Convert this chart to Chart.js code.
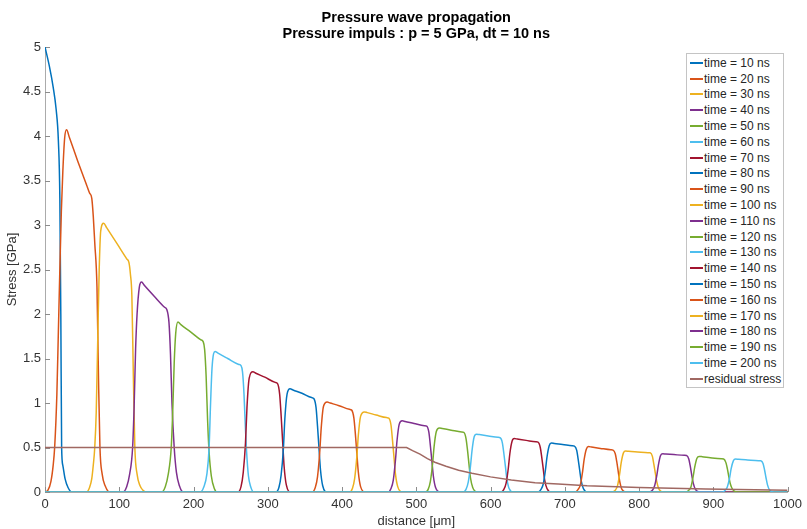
<!DOCTYPE html>
<html>
<head>
<meta charset="utf-8">
<script src="https://cdn.jsdelivr.net/npm/chart.js@4.4.1/dist/chart.umd.min.js"></script>
<style>
  html, body { margin: 0; padding: 0; background: #fff; overflow: hidden; }
  #wrap { position: relative; width: 807px; height: 536px; }
  #legend {
    position: absolute; left: 686px; top: 53px; width: 96px; height: 332px;
    border: 1px solid #c4c4c4; background: #fff; padding-top: 1px; box-sizing: content-box;
    font: 12px "Liberation Sans", Arial, Helvetica, sans-serif; color: #262626;
  }
  #legend .row { display: flex; align-items: center; height: 15.8px; white-space: nowrap; }
  #legend .swatch { width: 13px; height: 2px; margin: 0 1px 0 3px; }
</style>
</head>
<body>
<div id="wrap">
  <canvas id="chart" width="807" height="536"></canvas>
  <div id="legend"></div>
</div>
<script>
(function () {
  'use strict';

  // pulse times in ns
  var times = [10, 20, 30, 40, 50, 60, 70, 80, 90, 100, 110, 120, 130, 140, 150, 160, 170, 180, 190, 200];

  // distance [um] / stress [GPa] for each pulse
  var dist10 = [0, 6, 11, 15, 18, 20, 21.3, 22.4, 24, 27, 31, 36, 1000];
  var stress10 = [5, 4.78, 4.55, 4.3, 3.95, 3.3, 2.0, 0.5, 0.3, 0.15, 0.05, 0, 0];

  var dist20 = [0, 4, 8, 11, 13, 16, 18, 20, 22, 24, 26.5, 29, 33, 44, 56, 60, 63, 65, 67, 70, 72, 74, 77, 81, 87, 1000];
  var stress20 = [0, 0.02, 0.12, 0.3, 0.5, 1.1, 1.8, 2.5, 3.15, 3.6, 3.98, 4.07, 3.98, 3.72, 3.45, 3.36, 3.3, 3.1, 2.8, 2.3, 1.3, 0.5, 0.2, 0.07, 0, 0];

  var dist30 = [0, 56, 60, 63, 65, 67, 69, 71, 73, 75, 79, 83, 97, 110, 113, 115, 117, 119, 121, 124, 128, 132, 137, 1000];
  var stress30 = [0, 0, 0.05, 0.15, 0.3, 0.5, 0.9, 1.7, 2.5, 2.93, 3.02, 2.97, 2.79, 2.62, 2.58, 2.45, 2.2, 1.3, 0.5, 0.2, 0.07, 0.02, 0, 0];

  var dist40 = [0, 105, 110, 114, 118, 120, 122, 124, 127, 130, 134, 147, 161, 164, 167, 169, 171, 174, 177, 181, 186, 1000];
  var stress40 = [0, 0, 0.06, 0.2, 0.5, 0.95, 1.6, 2.0, 2.3, 2.36, 2.32, 2.2, 2.076, 2.05, 1.9, 1.55, 1.0, 0.5, 0.22, 0.07, 0, 0];

  var dist50 = [0, 157, 162, 166, 170, 172, 174, 176, 179, 183, 196, 210, 213, 215, 217, 219, 221, 224, 228, 232, 1000];
  var stress50 = [0, 0, 0.06, 0.2, 0.5, 0.9, 1.45, 1.78, 1.91, 1.88, 1.8, 1.71, 1.69, 1.6, 1.3, 0.8, 0.45, 0.18, 0.04, 0, 0];

  var dist60 = [0, 209, 214, 218, 221, 223, 225, 229, 233, 246, 261, 264, 266, 268, 270, 271.5, 274, 277, 281, 1000];
  var stress60 = [0, 0, 0.06, 0.2, 0.5, 1.0, 1.4, 1.58, 1.56, 1.5, 1.433, 1.42, 1.35, 1.1, 0.7, 0.45, 0.18, 0.06, 0, 0];

  var dist70 = [0, 260, 264, 267, 270, 272, 275, 280, 284, 296, 310, 313, 316, 318, 320, 322, 325, 331, 1000];
  var stress70 = [0, 0, 0.06, 0.22, 0.55, 0.95, 1.28, 1.35, 1.334, 1.29, 1.232, 1.22, 1.1, 0.86, 0.57, 0.29, 0.08, 0, 0];

  var dist80 = [0, 311, 315, 318, 321, 323, 326, 330, 334, 346, 359, 362, 365, 367, 369, 371, 374, 380, 1000];
  var stress80 = [0, 0, 0.05, 0.19, 0.48, 0.82, 1.1, 1.16, 1.146, 1.11, 1.061, 1.05, 0.95, 0.74, 0.49, 0.25, 0.07, 0, 0];

  var dist90 = [0, 360, 364, 367, 370, 372, 375, 380, 384, 396, 410, 413, 416, 418, 420, 422, 425, 431, 1000];
  var stress90 = [0, 0, 0.05, 0.17, 0.45, 0.72, 0.96, 1.01, 1.0, 0.97, 0.929, 0.92, 0.83, 0.65, 0.43, 0.22, 0.06, 0, 0];

  var dist100 = [0, 410, 414, 417, 420, 422, 425, 430, 434, 446, 460, 463, 466, 468, 470, 472, 475, 481, 1000];
  var stress100 = [0, 0, 0.04, 0.15, 0.4, 0.64, 0.85, 0.9, 0.892, 0.865, 0.836, 0.83, 0.75, 0.58, 0.39, 0.2, 0.06, 0, 0];

  var dist110 = [0, 462, 466, 469, 472, 474, 477, 481, 485, 497, 511, 514, 517, 519, 521, 523, 526, 532, 1000];
  var stress110 = [0, 0, 0.04, 0.13, 0.36, 0.57, 0.76, 0.8, 0.793, 0.77, 0.745, 0.74, 0.67, 0.52, 0.35, 0.18, 0.05, 0, 0];

  var dist120 = [0, 512, 516, 519, 522, 524, 527, 531, 535, 547, 561, 564, 567, 569, 571, 573, 576, 582, 1000];
  var stress120 = [0, 0, 0.03, 0.12, 0.32, 0.51, 0.68, 0.72, 0.714, 0.695, 0.674, 0.67, 0.6, 0.47, 0.31, 0.16, 0.05, 0, 0];

  var dist130 = [0, 563, 567, 570, 573, 575, 578, 581, 585, 597, 610, 613, 616, 618, 620, 622, 625, 631, 1000];
  var stress130 = [0, 0, 0.03, 0.11, 0.29, 0.46, 0.62, 0.65, 0.645, 0.63, 0.614, 0.61, 0.55, 0.43, 0.29, 0.15, 0.04, 0, 0];

  var dist140 = [0, 614, 618, 621, 624, 626, 629, 632, 636, 648, 661, 664, 667, 669, 671, 673, 676, 682, 1000];
  var stress140 = [0, 0, 0.03, 0.1, 0.27, 0.43, 0.57, 0.6, 0.595, 0.58, 0.564, 0.56, 0.5, 0.39, 0.26, 0.13, 0.04, 0, 0];

  var dist150 = [0, 664, 668, 671, 674, 676, 679, 682, 686, 697, 710, 713, 716, 718, 720, 722, 725, 731, 1000];
  var stress150 = [0, 0, 0.03, 0.09, 0.25, 0.39, 0.52, 0.55, 0.545, 0.535, 0.519, 0.515, 0.47, 0.37, 0.25, 0.13, 0.04, 0, 0];

  var dist160 = [0, 714, 718, 721, 724, 726, 729, 732, 736, 748, 762, 765, 768, 770, 772, 774, 777, 783, 1000];
  var stress160 = [0, 0, 0.03, 0.08, 0.23, 0.36, 0.48, 0.51, 0.505, 0.49, 0.474, 0.47, 0.43, 0.34, 0.23, 0.12, 0.03, 0, 0];

  var dist170 = [0, 764, 768, 771, 774, 776, 779, 782, 786, 798, 812, 815, 818, 820, 822, 824, 827, 833, 1000];
  var stress170 = [0, 0, 0.02, 0.07, 0.21, 0.33, 0.44, 0.46, 0.457, 0.45, 0.442, 0.44, 0.4, 0.31, 0.21, 0.11, 0.03, 0, 0];

  var dist180 = [0, 814, 818, 821, 824, 826, 829, 832, 836, 847, 861, 864, 867, 869, 871, 873, 876, 882, 1000];
  var stress180 = [0, 0, 0.02, 0.07, 0.19, 0.3, 0.41, 0.43, 0.427, 0.42, 0.412, 0.41, 0.37, 0.29, 0.19, 0.1, 0.03, 0, 0];

  var dist190 = [0, 863, 867, 870, 873, 875, 878, 881, 885, 896, 911, 914, 917, 919, 921, 923, 926, 932, 1000];
  var stress190 = [0, 0, 0.02, 0.06, 0.18, 0.28, 0.38, 0.4, 0.397, 0.385, 0.373, 0.37, 0.33, 0.26, 0.17, 0.09, 0.03, 0, 0];

  var dist200 = [0, 912, 916, 919, 922, 924, 927, 930, 934, 946, 961, 964, 967, 969, 971, 973, 976, 982, 1000];
  var stress200 = [0, 0, 0.02, 0.06, 0.16, 0.26, 0.35, 0.37, 0.367, 0.36, 0.352, 0.35, 0.32, 0.25, 0.16, 0.08, 0.02, 0, 0];

  var residualDist = [0, 487, 495, 505, 515, 525, 540, 557, 575, 600, 628, 660, 691, 730, 800, 890, 1000];
  var residualStress = [0.5, 0.5, 0.465, 0.425, 0.375, 0.335, 0.29, 0.245, 0.21, 0.17, 0.135, 0.105, 0.09, 0.07, 0.05, 0.035, 0.02];

  var xTicks = [0, 100, 200, 300, 400, 500, 600, 700, 800, 900, 1000];

  var pulseDist = [dist10, dist20, dist30, dist40, dist50, dist60, dist70, dist80, dist90, dist100,
    dist110, dist120, dist130, dist140, dist150, dist160, dist170, dist180, dist190, dist200];
  var pulseStress = [stress10, stress20, stress30, stress40, stress50, stress60, stress70, stress80, stress90, stress100,
    stress110, stress120, stress130, stress140, stress150, stress160, stress170, stress180, stress190, stress200];

  // matlab default line order
  var colors = ['#0072BD', '#D95319', '#EDB120', '#7E2F8E', '#77AC30', '#4DBEEE', '#A2142F'];
  var residualColor = '#a06862';
  var fontFamily = '"Liberation Sans", Arial, Helvetica, sans-serif';

  function points(xs, ys) {
    return xs.map(function (x, i) { return { x: x, y: ys[i] }; });
  }

  var datasets = times.map(function (t, i) {
    return {
      label: 'time = ' + t + ' ns',
      data: points(pulseDist[i], pulseStress[i]),
      borderColor: colors[i % colors.length],
      borderWidth: 1.5,
      pointRadius: 0,
      cubicInterpolationMode: 'monotone',
      order: -i
    };
  });
  datasets.push({
    label: 'residual stress',
    data: points(residualDist, residualStress),
    borderColor: residualColor,
    borderWidth: 1.5,
    pointRadius: 0,
    tension: 0,
    order: -times.length
  });

  // matlab style ticks pointing into the plot
  var innerTicks = {
    id: 'innerTicks',
    beforeDatasetsDraw: function (chart) {
      var ctx = chart.ctx, a = chart.chartArea;
      var sx = chart.scales.x, sy = chart.scales.y;
      ctx.save();
      ctx.strokeStyle = '#8c8c8c';
      ctx.lineWidth = 1;
      ctx.beginPath();
      sx.ticks.forEach(function (t) {
        var px = Math.round(sx.getPixelForValue(t.value)) + 0.5;
        ctx.moveTo(px, a.bottom);
        ctx.lineTo(px, a.bottom - 5);
      });
      sy.ticks.forEach(function (t) {
        var py = Math.round(sy.getPixelForValue(t.value)) + 0.5;
        ctx.moveTo(a.left, py);
        ctx.lineTo(a.left + 5, py);
      });
      ctx.stroke();
      ctx.restore();
    }
  };

  Chart.defaults.font.family = fontFamily;

  var chart = new Chart(document.getElementById('chart'), {
    type: 'line',
    data: { datasets: datasets },
    plugins: [innerTicks],
    options: {
      responsive: false,
      animation: false,
      devicePixelRatio: 1,
      layout: { padding: { left: 0, right: 17, top: 0, bottom: 0 } },
      plugins: {
        legend: { display: false },
        tooltip: { enabled: false },
        title: {
          display: true,
          fullSize: false,
          text: ['Pressure wave propagation', 'Pressure impuls : p = 5 GPa, dt = 10 ns'],
          color: '#000',
          font: { size: 14.5, weight: 'bold', lineHeight: '16px' },
          padding: { top: 10.3, bottom: 4.7 }
        }
      },
      scales: {
        x: {
          type: 'linear',
          min: 0,
          max: 1000,
          afterBuildTicks: function (s) { s.ticks = xTicks.map(function (v) { return { value: v }; }); },
          ticks: { color: '#333', font: { size: 13 }, padding: 5, maxRotation: 0, callback: function (v) { return String(v); } },
          grid: { display: false, drawTicks: false },
          border: { display: true, color: '#ababab', width: 1 },
          title: { display: true, text: 'distance [μm]', color: '#333', font: { size: 13 }, padding: { top: 2, bottom: 7 } },
          afterFit: function (s) { s.height = 44; }
        },
        y: {
          min: 0,
          max: 5,
          ticks: {
            stepSize: 0.5, color: '#333', font: { size: 13 }, padding: 4,
            callback: function (v) { return String(Math.round(v * 10) / 10); }
          },
          grid: { display: false, drawTicks: false },
          border: { display: true, color: '#ababab', width: 1 },
          title: { display: true, text: 'Stress [GPa]', color: '#333', font: { size: 13 }, padding: { top: 5, bottom: 0 } },
          afterFit: function (s) { s.width = 45; }
        }
      }
    }
  });

  var legend = document.getElementById('legend');
  chart.data.datasets.forEach(function (ds) {
    var row = document.createElement('div');
    row.className = 'row';
    var sw = document.createElement('span');
    sw.className = 'swatch';
    sw.style.background = ds.borderColor;
    var label = document.createElement('span');
    label.textContent = ds.label;
    row.appendChild(sw);
    row.appendChild(label);
    legend.appendChild(row);
  });
})();
</script>
</body>
</html>
